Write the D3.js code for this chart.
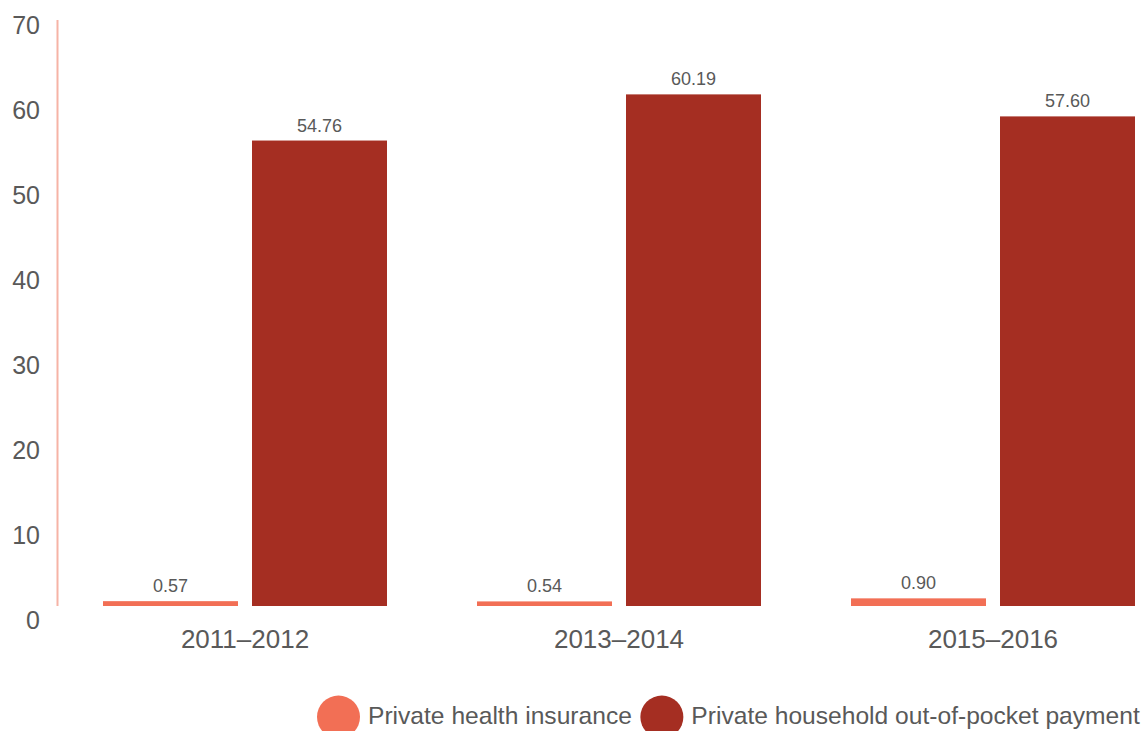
<!DOCTYPE html>
<html>
<head>
<meta charset="utf-8">
<script src="https://cdn.jsdelivr.net/npm/d3@7/dist/d3.min.js"></script>
<style>
  html, body { margin: 0; padding: 0; background: #fff; overflow: hidden; }
  svg { display: block; font-family: "Liberation Sans", Arial, Helvetica, sans-serif; }
</style>
</head>
<body>
<svg id="chart" width="1143" height="731"></svg>
<script>
// Periods on the x axis
const periods = ["2011\u20132012", "2013\u20132014", "2015\u20132016"];
// Series names, in legend order
const seriesNames = ["Private health insurance", "Private household out-of-pocket payment"];
// Values for each series, one per period
const insurance = [0.57, 0.54, 0.90];
const outOfPocket = [54.76, 60.19, 57.60];
// Y axis tick values
const yTicks = [0, 10, 20, 30, 40, 50, 60, 70];

const colors = ["#F26F55", "#A52E22"];
const textColor = "#595959";

const svg = d3.select("#chart");

const rows = periods.map((p, i) => ({ period: p, values: [insurance[i], outOfPocket[i]] }));

const y = d3.scaleLinear().domain([0, 70]).range([606, 11]);
const x = d3.scaleBand().domain(periods).range([58, 1180]).padding(0);
const xSub = d3.scaleBand().domain(d3.range(seriesNames.length))
  .range([45, x.bandwidth() - 45]).paddingInner(0.094);

// Y axis line
svg.append("line")
  .attr("x1", 57.5).attr("x2", 57.5)
  .attr("y1", y(0)).attr("y2", y(70) + 9)
  .attr("stroke", "#F6B3A6").attr("stroke-width", 2);

// Y tick labels (placed just below each tick value)
const yAxis = d3.axisLeft(y).tickValues(yTicks).tickSize(0).tickPadding(0);
const yg = svg.append("g").attr("transform", "translate(40,0)").call(yAxis);
yg.select(".domain").remove();
yg.selectAll("text")
  .attr("x", 0).attr("dy", null).attr("y", 22)
  .attr("text-anchor", "end")
  .attr("fill", textColor)
  .style("font-size", "25px")
  .style("font-family", "'Liberation Sans', Arial, sans-serif");

// X category labels
const xAxis = d3.axisBottom(x).tickSize(0).tickPadding(0);
const xg = svg.append("g").call(xAxis);
xg.select(".domain").remove();
xg.selectAll("text")
  .attr("dy", null).attr("y", 648)
  .attr("fill", textColor)
  .style("font-size", "26px")
  .style("font-family", "'Liberation Sans', Arial, sans-serif");

// Bars
const groups = svg.append("g").selectAll("g").data(rows).join("g")
  .attr("transform", d => `translate(${x(d.period)},0)`);

groups.selectAll("rect").data(d => d.values.map((v, i) => ({ v, i }))).join("rect")
  .attr("x", d => xSub(d.i))
  .attr("width", xSub.bandwidth())
  .attr("y", d => y(d.v))
  .attr("height", d => y(0) - y(d.v))
  .attr("fill", d => colors[d.i]);

// Value labels
groups.selectAll("text.val").data(d => d.values.map((v, i) => ({ v, i }))).join("text")
  .attr("class", "val")
  .attr("x", d => xSub(d.i) + xSub.bandwidth() / 2)
  .attr("y", d => y(d.v) - 9)
  .attr("text-anchor", "middle")
  .attr("fill", textColor)
  .style("font-size", "18px")
  .text(d => d3.format(".2f")(d.v));

// Legend
const legend = svg.append("g").attr("transform", "translate(0,717)");
let cx = 338.5;
seriesNames.forEach((name, i) => {
  legend.append("circle").attr("cx", cx).attr("cy", 0).attr("r", 21.5).attr("fill", colors[i]);
  const t = legend.append("text")
    .attr("x", cx + 29.5).attr("y", 7)
    .attr("fill", textColor)
    .style("font-size", "24.6px")
    .text(name);
  const w = t.node().getComputedTextLength();
  cx = cx + 29.5 + w + 30;
});
</script>
</body>
</html>
